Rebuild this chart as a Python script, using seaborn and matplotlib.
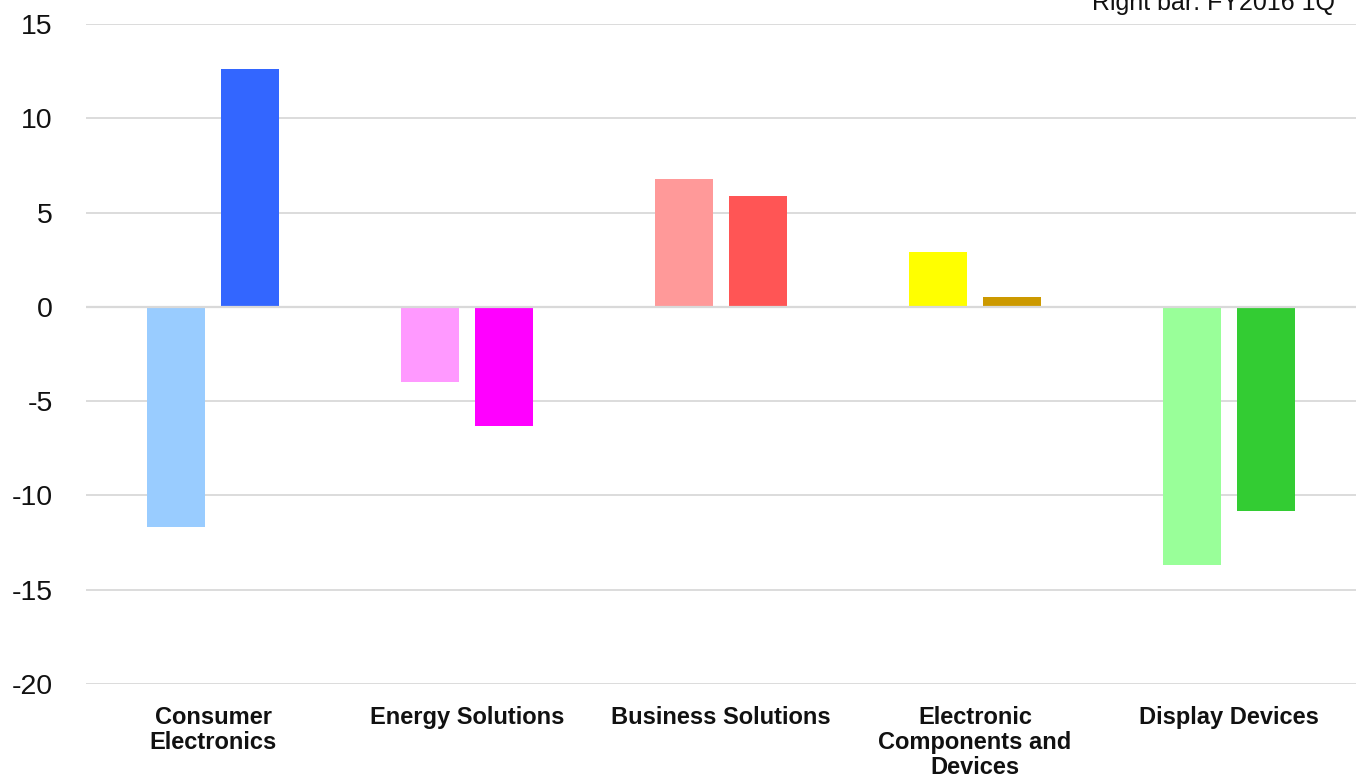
import matplotlib
matplotlib.use("Agg")
import matplotlib.pyplot as plt
import seaborn as sns
import pandas as pd

categories = ["Consumer\nElectronics", "Energy Solutions", "Business Solutions",
              "Electronic\nComponents and\nDevices", "Display Devices"]
left_values = [-11.7, -4.0, 6.8, 2.9, -13.7]
right_values = [12.6, -6.3, 5.9, 0.5, -10.8]
left_colors = ["#99ccff", "#ff99ff", "#ff9999", "#ffff00", "#99ff99"]
right_colors = ["#3366ff", "#ff00ff", "#ff5555", "#cc9900", "#33cc33"]
y_ticks = [15, 10, 5, 0, -5, -10, -15, -20]
note = "Right bar: FY2016 1Q"

sns.set_theme(style="white")
plt.rcParams["font.family"] = ["Liberation Sans", "DejaVu Sans"]

df = pd.DataFrame({
    "category": categories * 2,
    "value": left_values + right_values,
    "bar": ["Left"] * len(categories) + ["Right"] * len(categories),
})

fig = plt.figure(figsize=(13.64, 7.78), dpi=100)
ax = fig.add_axes([86 / 1364, 1 - 684 / 778, 1270 / 1364, (684 - 24) / 778])

sns.barplot(data=df, x="category", y="value", hue="bar", order=categories,
            hue_order=["Left", "Right"], width=0.575, gap=0.206,
            errorbar=None, legend=False, ax=ax, zorder=3, linewidth=0)

colors = left_colors + right_colors
for patch, c in zip(ax.patches, colors):
    patch.set_facecolor(c)
    patch.set_edgecolor("none")

ax.set_xlim(-0.5, 4.5)
ax.set_ylim(-20, 15)
ax.set_yticks(y_ticks)
ax.set_yticklabels([str(t) for t in y_ticks], fontsize=20.5, color="#111111")
ax.yaxis.grid(True, color="#d9d9d9", linewidth=1.3, zorder=0)
ax.set_axisbelow(True)
ax.axhline(0, color="#d9d9d9", linewidth=1.6, zorder=4)
ax.tick_params(axis="y", length=0, pad=24)
ax.tick_params(axis="x", length=0, pad=16)
for lbl in ax.get_xticklabels():
    lbl.set_fontsize(17)
    lbl.set_fontweight("bold")
    lbl.set_color("#111111")
    lbl.set_linespacing(1.1)
ax.set_xlabel("")
ax.set_ylabel("")
for s in ax.spines.values():
    s.set_visible(False)

fig.text(1335 / 1364, 1 - 10 / 778, note, ha="right", va="baseline",
         fontsize=18, color="#111111")

fig.savefig("out.png", dpi=100)
